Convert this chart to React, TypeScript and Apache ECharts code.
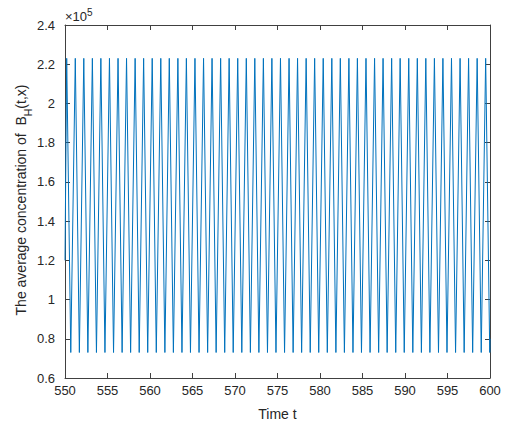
import React, { useEffect, useRef } from "react";
import * as echarts from "echarts";

const peakTimes = [
  550.2, 551.21, 552.21, 553.22, 554.22, 555.23, 556.24, 557.24, 558.25, 559.25,
  560.26, 561.27, 562.27, 563.28, 564.28, 565.29, 566.3, 567.3, 568.31, 569.31,
  570.32, 571.33, 572.33, 573.34, 574.34, 575.35, 576.36, 577.36, 578.37, 579.37,
  580.38, 581.39, 582.39, 583.4, 584.4, 585.41, 586.42, 587.42, 588.43, 589.43,
  590.44, 591.45, 592.45, 593.46, 594.46, 595.47, 596.48, 597.48, 598.49, 599.49,
];
const troughTimes = [
  550.68, 551.69, 552.69, 553.7, 554.7, 555.71, 556.72, 557.72, 558.73, 559.73,
  560.74, 561.75, 562.75, 563.76, 564.76, 565.77, 566.78, 567.78, 568.79, 569.79,
  570.8, 571.81, 572.81, 573.82, 574.82, 575.83, 576.84, 577.84, 578.85, 579.85,
  580.86, 581.87, 582.87, 583.88, 584.88, 585.89, 586.9, 587.9, 588.91, 589.91,
  590.92, 591.93, 592.93, 593.94, 594.94, 595.95, 596.96, 597.96, 598.97, 599.97,
];
const peakLevels = [223000];
const troughLevels = [73000];
const startPoint = [550, 120000];
const endPoint = [600, 80000];

const xTicks = [550, 555, 560, 565, 570, 575, 580, 585, 590, 595, 600];
const yTickLabels = ["0.6", "0.8", "1", "1.2", "1.4", "1.6", "1.8", "2", "2.2", "2.4"];

function buildData(): number[][] {
  const pts: number[][] = [startPoint];
  for (let i = 0; i < peakTimes.length; i++) {
    pts.push([peakTimes[i], peakLevels[0]]);
    pts.push([troughTimes[i], troughLevels[0]]);
  }
  pts.push(endPoint);
  return pts;
}

const AXIS_COLOR = "#262626";
const LINE_COLOR = "#404040";
const FONT = "Liberation Sans, Arial, Helvetica, sans-serif";

export default function App() {
  const ref = useRef<HTMLDivElement>(null);
  useEffect(() => {
    if (!ref.current) return;
    const chart = echarts.init(ref.current, undefined, { renderer: "svg" });
    const axisCommon = {
      axisLine: { show: true, onZero: false, lineStyle: { color: LINE_COLOR, width: 1 } },
      axisTick: { show: true, inside: true, length: 5, lineStyle: { color: LINE_COLOR, width: 1 } },
      splitLine: { show: false },
    };
    chart.setOption({
      animation: false,
      backgroundColor: "#ffffff",
      grid: { left: 65, right: 17, top: 25, bottom: 48, containLabel: false },
      xAxis: [
        {
          type: "value",
          min: 550,
          max: 600,
          interval: 5,
          position: "bottom",
          ...axisCommon,
          axisLabel: {
            color: AXIS_COLOR,
            fontSize: 13,
            fontFamily: FONT,
            margin: 6,
            formatter: (v: number) => (xTicks.includes(v) ? String(v) : ""),
          },
          name: "Time t",
          nameLocation: "middle",
          nameGap: 29,
          nameTextStyle: { color: AXIS_COLOR, fontSize: 14, fontFamily: FONT },
        },
        {
          type: "value",
          min: 550,
          max: 600,
          interval: 5,
          position: "top",
          ...axisCommon,
          axisLabel: { show: false },
        },
      ],
      yAxis: [
        {
          type: "value",
          min: 60000,
          max: 240000,
          interval: 20000,
          position: "left",
          ...axisCommon,
          axisLabel: {
            color: AXIS_COLOR,
            fontSize: 13,
            fontFamily: FONT,
            margin: 10,
            formatter: (v: number) => {
              const idx = Math.round((v - 60000) / 20000);
              return yTickLabels[idx] ?? "";
            },
          },
        },
        {
          type: "value",
          min: 60000,
          max: 240000,
          interval: 20000,
          position: "right",
          ...axisCommon,
          axisLabel: { show: false },
        },
      ],
      graphic: [
        {
          type: "text",
          x: 28,
          y: 200,
          rotation: Math.PI / 2,
          style: {
            text: "{n|The average concentration of  B}{s|H}{n|(t,x)}",
            align: "center",
            verticalAlign: "middle",
            fill: AXIS_COLOR,
            rich: {
              n: { fontSize: 14, fontFamily: FONT, fill: AXIS_COLOR, lineHeight: 16, verticalAlign: "top" },
              s: { fontSize: 10.5, fontFamily: FONT, fill: AXIS_COLOR, lineHeight: 28, verticalAlign: "middle" },
            },
          },
        },
        {
          type: "text",
          x: 65,
          y: 23,
          style: {
            text: "{n|×10}{p|5}",
            align: "left",
            verticalAlign: "bottom",
            fill: AXIS_COLOR,
            rich: {
              n: { fontSize: 13, fontFamily: FONT, fill: AXIS_COLOR, lineHeight: 16, verticalAlign: "bottom" },
              p: { fontSize: 10, fontFamily: FONT, fill: AXIS_COLOR, lineHeight: 16, verticalAlign: "top", padding: [0, 0, 7, 0] },
            },
          },
        },
      ],
      series: [
        {
          type: "line",
          data: buildData(),
          showSymbol: false,
          symbol: "none",
          lineStyle: { color: "#0072BD", width: 1 },
          xAxisIndex: 0,
          yAxisIndex: 0,
        },
      ],
    });
    return () => chart.dispose();
  }, []);
  return (
    <div
      ref={ref}
      style={{ position: "fixed", left: 0, top: 0, width: 507, height: 426, background: "#fff" }}
    />
  );
}
